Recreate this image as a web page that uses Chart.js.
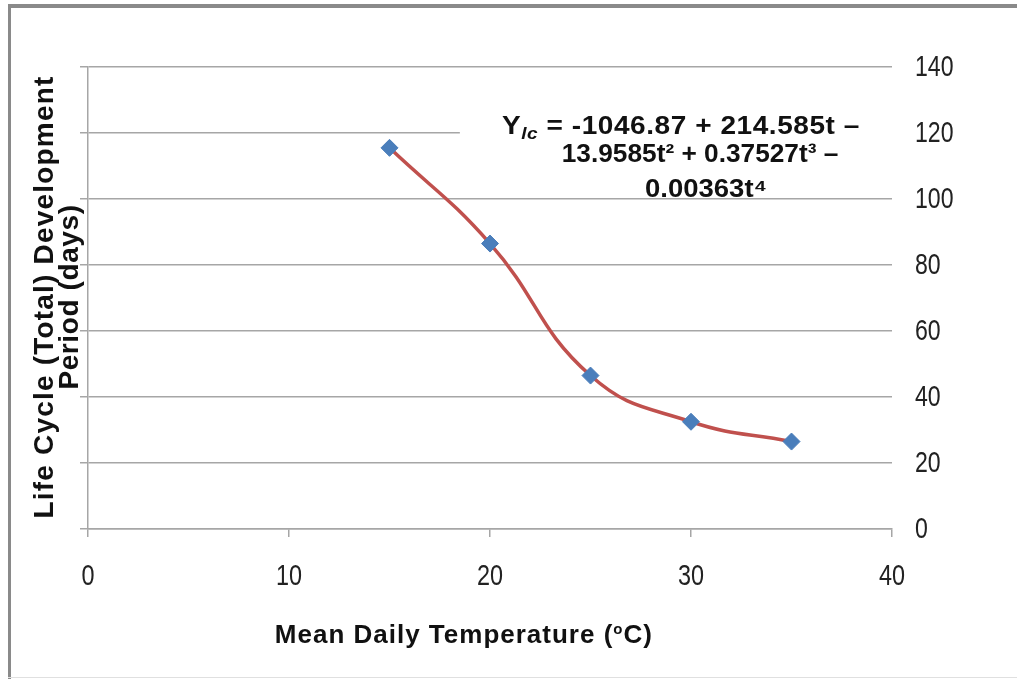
<!DOCTYPE html>
<html>
<head>
<meta charset="utf-8">
<script src="https://cdn.jsdelivr.net/npm/chart.js@4"></script>
<style>
html,body{margin:0;padding:0;background:#fff;}
#wrap{position:relative;width:1017px;height:679px;}
canvas{display:block;}
</style>
</head>
<body>
<div id="wrap"><canvas id="c" width="1017" height="679"></canvas></div>
<script>
const temperatures = [15, 20, 25, 30, 35];
const lifeCycleDays = [115.5, 86.5, 46.5, 32.5, 26.5];
const xTicks = [0, 10, 20, 30, 40];
const yTicks = [0, 20, 40, 60, 80, 100, 120, 140];
const xTitle = ['Mean Daily Temperature (', 'o', 'C)'];
const yTitleLines = ['Life Cycle (Total) Development', 'Period (days)'];
const eqLine1 = ['Y', 'lc', ' = -1046.87 + 214.585t \u2013'];
const eqLine2 = '13.9585t\u00B2 + 0.37527t\u00B3 \u2013';
const eqLine3 = '0.00363t\u2074';

const baseFont = "'Liberation Sans', Arial, sans-serif";

function drawScaled(ctx, text, x, y, align, sx) {
  ctx.save();
  ctx.translate(x, y);
  ctx.scale(sx, 1);
  ctx.textAlign = align;
  ctx.fillText(text, 0, 0);
  ctx.restore();
}

const decor = {
  id: 'decor',
  beforeDraw(chart) {
    const ctx = chart.ctx;
    ctx.save();
    ctx.fillStyle = '#fff';
    ctx.fillRect(0, 0, chart.width, chart.height);
    ctx.fillStyle = '#8a8a8a';
    ctx.fillRect(8, 4, chart.width - 8, 4);
    ctx.fillRect(8, 4, 3, chart.height - 4);
    ctx.fillStyle = '#e0e0e0';
    ctx.fillRect(8, chart.height - 2, chart.width - 8, 1);
    ctx.restore();
  },
  beforeDatasetsDraw(chart) {
    const ctx = chart.ctx;
    const xs = chart.scales.x, ys = chart.scales.y;
    ctx.save();
    const bx = xs.getPixelForValue(18.5);
    const by = ys.getPixelForValue(120);
    ctx.fillStyle = '#fff';
    ctx.fillRect(bx, by - 4, chart.chartArea.right - bx + 1, 8);
    ctx.restore();
  },
  afterDraw(chart) {
    const ctx = chart.ctx;
    const xs = chart.scales.x, ys = chart.scales.y2;
    ctx.save();
    ctx.fillStyle = '#222';
    // tick labels (narrow digits), positioned by the scales
    ctx.font = '30px ' + baseFont;
    ctx.textBaseline = 'middle';
    ys.ticks.forEach(t => {
      drawScaled(ctx, String(t.value), ys.left + 23, ys.getPixelForValue(t.value) + 1, 'left', 0.77);
    });
    xs.ticks.forEach(t => {
      drawScaled(ctx, String(t.value), xs.getPixelForValue(t.value), xs.top + 48, 'center', 0.78);
    });

    ctx.fillStyle = '#111';
    // x title
    ctx.textBaseline = 'alphabetic';
    ctx.letterSpacing = '1px';
    const f = 'bold 26px ' + baseFont;
    const fs = 'bold 15px ' + baseFont;
    ctx.font = f;
    const w1 = ctx.measureText(xTitle[0]).width;
    ctx.font = fs;
    const w2 = ctx.measureText(xTitle[1]).width;
    ctx.font = f;
    const w3 = ctx.measureText(xTitle[2]).width;
    const cx = xs.getPixelForValue(18.7);
    let x0 = cx - (w1 + w2 + w3) / 2;
    const yb = 643;
    ctx.textAlign = 'left';
    ctx.fillText(xTitle[0], x0, yb);
    ctx.font = fs;
    ctx.fillText(xTitle[1], x0 + w1, yb - 9);
    ctx.font = f;
    ctx.fillText(xTitle[2], x0 + w1 + w2, yb);

    // y title (two lines, rotated)
    ctx.save();
    ctx.translate(53, ys.getPixelForValue(70) - 1);
    ctx.rotate(-Math.PI / 2);
    ctx.textAlign = 'center';
    ctx.textBaseline = 'alphabetic';
    ctx.letterSpacing = '1.2px';
    ctx.font = 'bold 28px ' + baseFont;
    ctx.fillText(yTitleLines[0], 0, 0);
    ctx.letterSpacing = '0.6px';
    ctx.fillText(yTitleLines[1], 0, 25);
    ctx.restore();

    // equation
    const ef = 'bold 25px ' + baseFont;
    const esf = 'italic bold 17px ' + baseFont;
    ctx.textBaseline = 'alphabetic';
    ctx.letterSpacing = '0.5px';
    const s1 = 1.12;
    ctx.font = ef;
    const a = ctx.measureText(eqLine1[0]).width * s1;
    ctx.font = esf;
    const b = ctx.measureText(eqLine1[1]).width * s1;
    ctx.font = ef;
    const c = ctx.measureText(eqLine1[2]).width * s1;
    const ex1 = xs.getPixelForValue(29.5);
    let lx = ex1 - (a + b + c) / 2;
    const l1 = ys.getPixelForValue(120) + 1;
    drawScaled(ctx, eqLine1[0], lx, l1, 'left', s1);
    ctx.font = esf;
    drawScaled(ctx, eqLine1[1], lx + a, l1 + 5, 'left', s1);
    ctx.font = ef;
    drawScaled(ctx, eqLine1[2], lx + a + b, l1, 'left', s1);
    ctx.letterSpacing = '0px';
    drawScaled(ctx, eqLine2, xs.getPixelForValue(30.45), l1 + 28, 'center', 1.05);
    drawScaled(ctx, eqLine3, xs.getPixelForValue(30.75), l1 + 63, 'center', 1.1);
    ctx.restore();
  }
};

new Chart(document.getElementById('c'), {
  type: 'scatter',
  data: {
    datasets: [{
      data: temperatures.map((t, i) => ({ x: t, y: lifeCycleDays[i] })),
      showLine: true,
      tension: 0.45,
      borderColor: '#c0504d',
      borderWidth: 3.5,
      pointStyle: 'rectRot',
      pointRadius: 8.5,
      pointHoverRadius: 8.5,
      pointBackgroundColor: '#4a7ebb',
      pointBorderColor: '#4a7ebb',
      pointBorderWidth: 1
    }]
  },
  options: {
    responsive: false,
    animation: false,
    events: [],
    layout: { padding: { left: 80, top: 67, right: 0, bottom: 0 } },
    plugins: { legend: { display: false }, tooltip: { enabled: false } },
    scales: {
      x: {
        type: 'linear',
        min: 0, max: 40,
        afterBuildTicks(s) { s.ticks = xTicks.map(v => ({ value: v })); },
        afterFit(s) { s.height = 150; },
        grid: { drawOnChartArea: false, drawTicks: true, tickLength: 8, color: '#a6a6a6', lineWidth: 1.5 },
        border: { display: true, color: '#a6a6a6', width: 1.5 },
        ticks: { display: false }
      },
      y: {
        type: 'linear',
        position: 'left',
        min: 0, max: 140,
        afterBuildTicks(s) { s.ticks = yTicks.map(v => ({ value: v })); },
        afterFit(s) { s.width = 8; },
        grid: { drawOnChartArea: true, drawTicks: true, tickLength: 8, color: '#a6a6a6', lineWidth: 1.5 },
        border: { display: true, color: '#a6a6a6', width: 1.5 },
        ticks: { display: false }
      },
      y2: {
        type: 'linear',
        position: 'right',
        min: 0, max: 140,
        afterBuildTicks(s) { s.ticks = yTicks.map(v => ({ value: v })); },
        afterFit(s) { s.width = 125; },
        grid: { display: false, drawTicks: false },
        border: { display: false },
        ticks: { display: false }
      }
    }
  },
  plugins: [decor]
});
</script>
</body>
</html>
